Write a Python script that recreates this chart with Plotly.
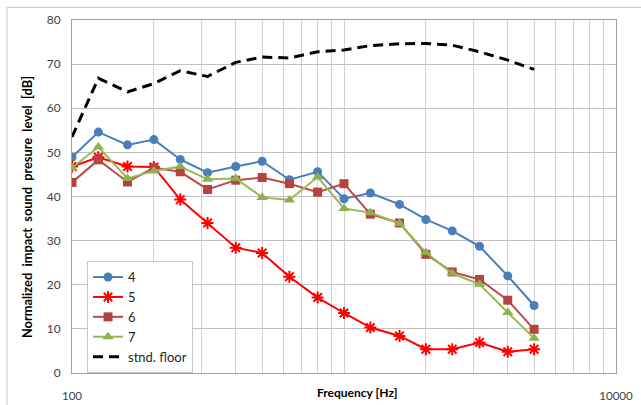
import plotly.graph_objects as go

freqs = [100, 125, 160, 200, 250, 315, 400, 500, 630, 800, 1000, 1250, 1600, 2000, 2500, 3150, 4000, 5000]
s4 = [48.9, 54.6, 51.7, 52.9, 48.4, 45.4, 46.8, 48.0, 43.8, 45.6, 39.5, 40.8, 38.2, 34.8, 32.2, 28.7, 22.0, 15.3]
s5 = [46.8, 48.9, 46.8, 46.7, 39.3, 34.0, 28.4, 27.2, 21.8, 17.1, 13.6, 10.3, 8.4, 5.4, 5.4, 6.9, 4.8, 5.4]
s6 = [43.2, 48.3, 43.3, 46.5, 45.6, 41.6, 43.7, 44.3, 42.9, 41.0, 42.9, 36.0, 34.0, 26.9, 22.9, 21.2, 16.5, 9.9]
s7 = [46.5, 51.2, 44.1, 45.8, 46.8, 43.9, 44.1, 39.8, 39.2, 44.4, 37.3, 36.3, 33.9, 27.3, 22.6, 20.1, 13.7, 7.9]
floor = [53.5, 66.8, 63.7, 65.6, 68.5, 67.2, 70.4, 71.6, 71.4, 72.8, 73.2, 74.2, 74.6, 74.7, 74.3, 72.8, 70.9, 68.8]

grid_vals = [100, 200, 300, 400, 500, 600, 700, 800, 900,
             1000, 2000, 3000, 4000, 5000, 6000, 7000, 8000, 9000, 10000]
grid_text = ["100"] + [""] * 17 + ["10000"]

FONT = "Lato"

fig = go.Figure()
fig.add_trace(go.Scatter(x=freqs, y=s4, name="4", mode="lines+markers",
                         line=dict(color="#4A7EBB", width=2),
                         marker=dict(symbol="circle", size=9, color="#4A7EBB")))
fig.add_trace(go.Scatter(x=freqs, y=s5, name="5", mode="lines+markers",
                         line=dict(color="#FF0000", width=2),
                         marker=dict(symbol="asterisk-open", size=10,
                                     line=dict(color="#FF0000", width=2))))
fig.add_trace(go.Scatter(x=freqs, y=s6, name="6", mode="lines+markers",
                         line=dict(color="#BE4B48", width=2),
                         marker=dict(symbol="square", size=9, color="#B5423F")))
fig.add_trace(go.Scatter(x=freqs, y=s7, name="7", mode="lines+markers",
                         line=dict(color="#98B954", width=2),
                         marker=dict(symbol="triangle-up", size=10, color="#8FB04F")))
fig.add_trace(go.Scatter(x=freqs, y=floor, name="stnd. floor", mode="lines",
                         line=dict(color="black", width=3, dash="10px,6px")))

fig.update_layout(
    width=641, height=405,
    margin=dict(l=72, r=25, t=20, b=32),
    paper_bgcolor="white", plot_bgcolor="white",
    font=dict(family=FONT, size=12, color="#404040"),
    showlegend=True,
    legend=dict(x=0.0276, y=0.317, xanchor="left", yanchor="top",
                bgcolor="white", bordercolor="#c8c8c8", borderwidth=1,
                font=dict(family=FONT, size=13, color="#262626"),
                tracegroupgap=0),
    xaxis=dict(type="log", range=[2, 4], tickvals=grid_vals, ticktext=grid_text,
               automargin=False,
               showgrid=True, gridcolor="#d0d0d0", gridwidth=1,
               showline=True, linecolor="#a0a0a0", linewidth=1, mirror=True,
               ticks="outside", ticklen=0, ticklabelstandoff=12,
               tickfont=dict(family=FONT, size=11.5, color="#404040"), zeroline=False),
    yaxis=dict(range=[0, 80], dtick=10, showgrid=True, gridcolor="#c0c0c0", gridwidth=1,
               automargin=False,
               showline=True, linecolor="#a0a0a0", linewidth=1, mirror=True,
               ticks="outside", ticklen=0, ticklabelstandoff=8,
               tickfont=dict(family=FONT, size=12, color="#404040"), zeroline=False),
    annotations=[
        dict(text="<b>Frequency [Hz]</b>", x=0.524, y=-0.054, xref="paper", yref="paper",
             xanchor="center", yanchor="middle", showarrow=False,
             font=dict(family=FONT, size=12, color="#000000")),
        dict(text="<b>Normalized  impact  sound  presure  level  [dB]</b>", x=-0.0827, y=0.47,
             xref="paper", yref="paper", xanchor="center", yanchor="middle",
             textangle=-90, showarrow=False,
             font=dict(family=FONT, size=12.8, color="#000000")),
    ],
    shapes=[dict(type="rect", xref="paper", yref="paper", x0=-0.1195, y0=-0.3, x1=1.3, y1=1.0354,
                 line=dict(color="#c8c8c8", width=1), layer="above")],
)

fig.write_html("out.html", config={"displayModeBar": False},
               post_script="document.body.style.margin='0px';document.body.style.overflow='hidden';")
